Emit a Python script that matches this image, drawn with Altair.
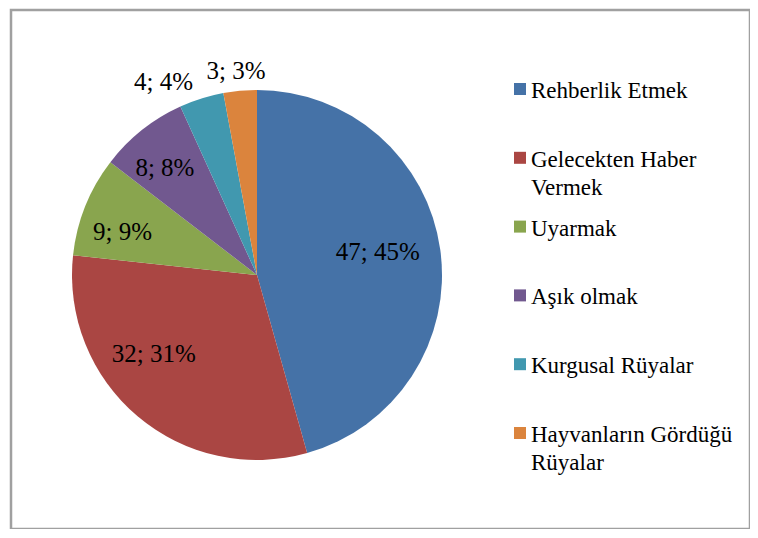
import altair as alt
import pandas as pd

categories = ["Rehberlik Etmek", "Gelecekten Haber Vermek", "Uyarmak",
              "Aşık olmak", "Kurgusal Rüyalar", "Hayvanların Gördüğü Rüyalar"]
counts = [47, 32, 9, 8, 4, 3]
percents = [45, 31, 9, 8, 4, 3]
legend_lines = ["Rehberlik Etmek", "Gelecekten Haber\nVermek", "Uyarmak",
                "Aşık olmak", "Kurgusal Rüyalar", "Hayvanların Gördüğü\nRüyalar"]
colors = ["#4572A7", "#AA4643", "#89A54E", "#71588F", "#4198AF", "#DB843D"]

df = pd.DataFrame({
    "category": categories,
    "count": counts,
    "pct": percents,
    "legend": legend_lines,
    "idx": list(range(len(categories))),
})
df["label"] = [f"{c}; {p}%" for c, p in zip(counts, percents)]

FONT = "Liberation Serif, Times New Roman, DejaVu Serif, serif"
CX, CY, R = 246, 265, 185

color = alt.Color("category:N", scale=alt.Scale(domain=categories, range=colors), legend=None)
theta = alt.Theta("count:Q", stack=True)
order = alt.Order("idx:Q", sort="ascending")

base = alt.Chart(df)

pie = base.mark_arc(outerRadius=R).encode(
    theta=theta, color=color, order=order,
    x=alt.value(CX), y=alt.value(CY),
)

# label placement style: (radius, dx, dy)
label_style = {
    "Rehberlik Etmek": (132, -10, -5),
    "Gelecekten Haber Vermek": (132, -18, -22),
    "Uyarmak": (132, -12, 6),
    "Aşık olmak": (132, -10, -4),
    "Kurgusal Rüyalar": (208, -31, 5),
    "Hayvanların Gördüğü Rüyalar": (208, -2, 3),
}

label_layers = []
for cat, (r, dx, dy) in label_style.items():
    label_layers.append(
        base.mark_text(radius=r, dx=dx, dy=dy, font=FONT, fontSize=25,
                       color="black", baseline="middle", align="center").encode(
            theta=theta, order=order,
            x=alt.value(CX), y=alt.value(CY),
            text=alt.condition(alt.datum.category == cat, "label:N", alt.value("")),
        )
    )

leg_sq = base.mark_square(size=144, opacity=1, filled=True).encode(
    x=alt.value(509),
    y=alt.Y("category:N", scale=alt.Scale(type="point", domain=categories, range=[79, 423], padding=0), axis=None),
    color=color,
)

leg_txt = base.mark_text(align="left", baseline="alphabetic", lineBreak="\n", lineHeight=28,
                         fontSize=23, font=FONT, color="black").encode(
    x=alt.value(520),
    y=alt.Y("category:N", scale=alt.Scale(type="point", domain=categories, range=[88, 432], padding=0), axis=None),
    text="legend:N",
)

chart = alt.layer(pie, *label_layers, leg_sq, leg_txt).resolve_scale(
    y="independent"
).properties(
    width=739, height=519,
    padding={"left": 3, "top": 2, "right": 0, "bottom": 0},
    autosize=alt.AutoSizeParams(type="none"),
    background="white",
).configure_view(stroke="#a0a0a0", strokeWidth=2.5)

chart.save("out.html", embed_options={"renderer": "svg", "actions": False})
